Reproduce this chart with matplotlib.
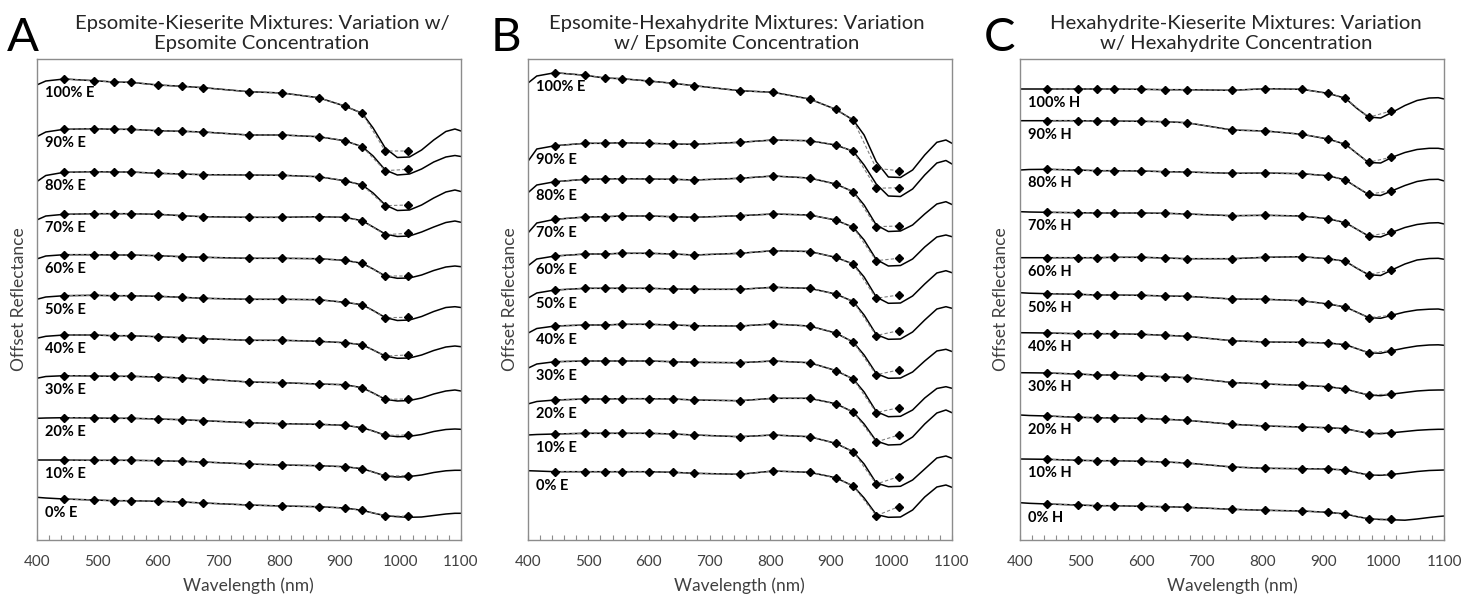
import matplotlib.pyplot as plt
from matplotlib.ticker import MultipleLocator

plt.rcParams['font.family'] = ['Lato', 'DejaVu Sans']

# wavelengths (nm)
band_wl = [445, 495, 527, 555, 600, 640, 675, 750, 805, 865, 908, 937, 975, 1012]
head_wl = [400, 415]
tail_wl = [955, 975, 995, 1015, 1035, 1055, 1075, 1090, 1100]
pct = [100, 90, 80, 70, 60, 50, 40, 30, 20, 10, 0]

# offset reflectance, arbitrary units (top curve first)
# Panel A: epsomite-kieserite
a_bands = [
    [461.0, 459.3, 458.0, 457.7, 455.0, 453.7, 452.3, 448.3, 447.0, 442.3, 434.0, 426.7, 389.0, 389.0],
    [410.7, 411.3, 410.7, 410.7, 409.3, 408.7, 408.0, 405.0, 405.0, 403.3, 399.3, 393.3, 369.3, 370.7],
    [367.7, 368.3, 368.0, 368.0, 366.7, 366.0, 365.3, 365.0, 364.7, 363.3, 359.3, 355.0, 334.3, 335.0],
    [325.7, 326.3, 326.3, 326.3, 325.7, 324.3, 323.3, 322.7, 322.7, 323.3, 322.7, 319.3, 305.3, 306.7],
    [285.3, 285.3, 285.0, 285.0, 284.3, 283.3, 282.7, 281.7, 281.7, 281.3, 279.7, 276.7, 264.0, 264.0],
    [244.3, 244.7, 244.3, 244.3, 243.7, 242.7, 241.7, 240.7, 240.7, 240.3, 237.7, 235.3, 222.3, 222.7],
    [205.0, 205.0, 204.3, 204.3, 203.3, 202.3, 201.3, 199.7, 199.7, 198.7, 197.3, 195.3, 184.0, 185.0],
    [164.3, 164.0, 163.7, 163.7, 163.0, 162.0, 161.0, 158.0, 157.3, 156.0, 155.3, 152.3, 140.7, 141.0],
    [122.3, 122.0, 121.7, 121.7, 121.0, 120.3, 119.3, 117.3, 116.3, 115.7, 114.7, 112.3, 104.7, 105.0],
    [80.0, 79.7, 79.7, 79.7, 79.3, 78.7, 78.0, 76.0, 75.0, 74.3, 73.3, 71.3, 64.0, 64.3],
    [41.0, 40.0, 39.3, 39.3, 38.7, 38.0, 37.0, 35.0, 34.0, 33.3, 32.0, 29.7, 24.3, 23.7],
]
a_heads = [[455.0, 459.0], [403.3, 408.0], [358.3, 364.5], [320.0, 324.0], [281.0, 284.0],
           [240.7, 243.0], [201.7, 203.7], [161.7, 163.5], [121.7, 122.0], [80.0, 80.0], [42.7, 42.0]]
a_tails = [
    [412.0, 392.0, 382.5, 383.0, 390.0, 400.0, 408.5, 411.0, 409.0],
    [384.0, 370.0, 365.0, 366.0, 371.0, 378.0, 383.0, 384.5, 383.5],
    [347.0, 335.0, 329.5, 330.0, 335.0, 342.0, 348.0, 350.0, 348.5],
    [313.0, 306.0, 303.5, 304.0, 308.0, 313.0, 317.5, 319.0, 317.7],
    [271.0, 264.0, 261.7, 262.0, 265.0, 269.5, 273.0, 274.0, 273.3],
    [229.5, 222.5, 219.5, 220.0, 223.5, 228.5, 232.5, 233.3, 232.5],
    [190.0, 184.0, 181.7, 182.0, 185.0, 189.5, 193.0, 194.0, 193.3],
    [147.0, 140.7, 139.0, 139.5, 142.0, 146.0, 149.0, 150.0, 149.0],
    [109.0, 104.7, 103.3, 103.7, 105.5, 108.5, 110.5, 111.0, 110.7],
    [68.0, 64.0, 63.0, 63.5, 65.0, 67.5, 69.2, 69.7, 69.7],
    [27.0, 24.3, 23.3, 22.7, 23.0, 24.5, 26.0, 26.7, 26.7],
]

# Panel B: epsomite-hexahydrite
b_bands = [
    [467.3, 464.7, 462.0, 461.3, 459.0, 456.7, 454.3, 449.3, 447.7, 441.0, 430.7, 420.0, 371.7, 369.3],
    [394.3, 396.7, 396.7, 397.3, 396.7, 396.0, 395.7, 397.7, 400.0, 399.3, 395.0, 388.8, 351.7, 352.3],
    [358.3, 360.7, 361.0, 361.3, 361.0, 360.7, 360.0, 361.7, 364.0, 362.0, 356.0, 348.3, 313.3, 314.0],
    [320.7, 323.0, 323.3, 324.0, 324.0, 323.3, 322.7, 324.3, 326.0, 325.0, 320.0, 312.7, 279.3, 281.7],
    [284.0, 286.0, 286.0, 286.7, 286.7, 286.0, 285.0, 286.7, 289.3, 288.5, 282.7, 276.0, 241.7, 245.0],
    [250.0, 251.7, 251.7, 251.7, 251.7, 251.0, 250.7, 250.7, 252.7, 251.7, 246.0, 238.5, 204.5, 209.3],
    [214.0, 215.0, 215.0, 215.7, 215.7, 215.0, 214.3, 214.0, 216.0, 214.0, 207.0, 198.0, 165.3, 170.0],
    [178.3, 179.0, 179.0, 179.0, 179.0, 178.3, 177.7, 177.3, 179.0, 177.3, 169.5, 161.0, 127.5, 132.2],
    [140.0, 141.0, 141.0, 141.3, 141.3, 141.0, 140.0, 139.3, 141.7, 141.7, 136.3, 128.0, 98.0, 105.0],
    [106.0, 106.7, 106.7, 106.7, 106.7, 106.0, 105.0, 103.3, 105.0, 103.3, 96.7, 88.3, 56.0, 63.3],
    [68.3, 68.3, 68.3, 68.3, 68.3, 67.7, 66.7, 65.7, 69.0, 67.7, 62.3, 54.0, 24.3, 33.3],
]
b_heads = [[456.7, 464.0], [378.3, 391.0], [347.0, 355.0], [306.7, 317.0], [274.0, 281.0],
           [241.7, 247.0], [206.7, 211.5], [171.7, 176.0], [136.0, 138.5], [105.0, 105.5], [69.3, 69.0]]
b_tails = [
    [405.0, 378.3, 363.0, 362.5, 370.0, 385.0, 397.7, 400.0, 396.7],
    [375.0, 356.0, 344.0, 343.5, 351.0, 365.0, 377.0, 379.5, 376.0],
    [335.0, 315.0, 308.5, 309.0, 315.0, 326.0, 336.0, 338.3, 335.5],
    [300.0, 280.5, 274.0, 274.5, 281.0, 293.0, 303.0, 305.0, 303.3],
    [263.0, 243.0, 236.7, 237.0, 244.0, 256.0, 267.0, 269.3, 267.3],
    [225.0, 205.5, 200.7, 201.0, 208.0, 220.0, 231.0, 233.3, 231.7],
    [185.0, 166.5, 161.7, 162.0, 168.0, 179.0, 189.0, 190.7, 188.5],
    [148.0, 128.5, 123.3, 123.7, 130.0, 142.0, 151.5, 153.3, 151.7],
    [116.0, 99.0, 95.0, 95.5, 103.0, 116.0, 127.0, 130.0, 127.3],
    [76.0, 57.0, 53.3, 53.7, 60.0, 71.0, 82.0, 84.0, 81.7],
    [42.0, 25.5, 22.7, 23.0, 30.0, 43.0, 53.0, 55.0, 52.7],
]

# Panel C: hexahydrite-kieserite
c_bands = [
    [451.0, 451.0, 451.0, 451.0, 450.7, 450.3, 450.3, 449.7, 451.3, 450.7, 446.7, 441.7, 422.7, 429.0],
    [419.3, 419.3, 419.0, 419.0, 418.7, 418.3, 417.3, 410.0, 409.0, 405.7, 401.0, 395.7, 377.7, 382.7],
    [370.7, 370.0, 369.3, 369.3, 369.0, 368.3, 368.0, 366.7, 367.0, 366.3, 364.3, 360.0, 345.7, 349.3],
    [327.7, 327.3, 327.0, 327.0, 327.0, 326.7, 326.0, 324.3, 324.7, 324.0, 321.3, 317.3, 304.0, 307.7],
    [282.3, 282.3, 282.3, 282.7, 282.7, 282.0, 281.3, 281.3, 282.7, 283.3, 281.3, 278.7, 265.3, 270.0],
    [246.3, 245.7, 245.0, 245.0, 244.7, 244.0, 243.7, 241.0, 240.7, 239.3, 236.0, 233.0, 222.3, 224.7],
    [207.0, 206.3, 206.3, 206.3, 205.7, 204.7, 203.7, 199.3, 198.0, 197.7, 197.0, 195.3, 187.3, 189.3],
    [167.0, 166.0, 165.0, 165.0, 164.0, 163.3, 162.3, 157.5, 156.0, 154.7, 153.3, 151.0, 145.0, 146.0],
    [124.0, 122.7, 122.3, 122.0, 121.7, 120.7, 119.7, 115.7, 114.0, 113.0, 112.3, 111.3, 106.7, 107.3],
    [80.7, 79.7, 79.3, 79.3, 78.7, 78.0, 77.0, 73.0, 71.7, 71.3, 71.0, 70.0, 65.0, 65.7],
    [36.0, 35.0, 34.3, 34.3, 33.7, 33.3, 32.7, 30.7, 29.7, 29.0, 27.7, 26.0, 21.3, 20.7],
]
c_heads = [[451.0, 451.0], [419.3, 419.3], [370.0, 370.5], [328.3, 328.0], [282.3, 282.3],
           [247.3, 246.8], [207.3, 207.2], [167.3, 167.2], [125.0, 124.5], [81.0, 80.9], [37.3, 36.7]]
c_tails = [
    [432.0, 423.0, 422.0, 428.0, 434.5, 439.5, 442.0, 442.3, 441.0],
    [387.0, 377.5, 377.0, 383.0, 387.5, 390.5, 391.7, 391.7, 390.7],
    [353.0, 345.5, 344.5, 349.5, 354.5, 358.5, 360.5, 360.7, 359.0],
    [311.0, 304.0, 303.0, 308.0, 312.5, 315.5, 317.0, 317.3, 316.0],
    [272.0, 265.3, 264.5, 270.5, 276.0, 280.0, 281.5, 281.7, 280.7],
    [228.0, 222.5, 221.7, 225.0, 228.0, 230.0, 230.8, 231.0, 230.0],
    [191.5, 187.3, 186.7, 189.5, 192.0, 194.0, 195.0, 195.2, 194.7],
    [148.0, 145.0, 144.3, 146.0, 147.5, 149.0, 149.8, 150.0, 150.0],
    [109.0, 106.7, 106.3, 107.3, 108.5, 109.7, 110.4, 110.7, 110.7],
    [67.5, 65.0, 64.7, 65.7, 67.0, 68.5, 69.5, 69.8, 70.0],
    [23.5, 21.3, 20.5, 20.2, 19.8, 21.0, 22.5, 23.5, 24.0],
]

titles = ["Epsomite-Kieserite Mixtures: Variation w/\nEpsomite Concentration",
          "Epsomite-Hexahydrite Mixtures: Variation\nw/ Epsomite Concentration",
          "Hexahydrite-Kieserite Mixtures: Variation\nw/ Hexahydrite Concentration"]
letters = ["A", "B", "C"]
suffix = ["E", "E", "H"]

panels = [(a_bands, a_heads, a_tails), (b_bands, b_heads, b_tails), (c_bands, c_heads, c_tails)]

W, H = 1476, 598
fig = plt.figure(figsize=(W / 100, H / 100), dpi=100)

ax_left = [36.7, 527.7, 1020]
title_x = [262, 737, 1236]
letter_x = [23, 506, 1000]
ylab_x = [-0.022, -0.022, -0.027]
frame = '#8c8c8c'
txt = '#404040'

for i, (bands, heads, tails) in enumerate(panels):
    ax = fig.add_axes([ax_left[i] / W, 58 / H, 424.3 / W, 481 / H])
    for j in range(len(pct)):
        line_x = head_wl + band_wl[:12] + tail_wl
        line_y = heads[j] + bands[j][:12] + tails[j]
        ax.plot(line_x, line_y, color='black', lw=1.1, zorder=2)
        ax.plot(band_wl, bands[j], color='#7f7f7f', lw=0.8, dashes=(3, 2), zorder=3)
        ax.plot(band_wl, bands[j], ls='none', marker='D', ms=4.4, color='black', zorder=4)
        ax.text(414, bands[j][0] - 14, f"{pct[j]}% {suffix[i]}", fontsize=10.5,
                fontweight='bold', ha='left', va='center', color='black')
    ax.set_xlim(400, 1100)
    ax.set_ylim(0, 481)
    ax.set_yticks([])
    ax.xaxis.set_major_locator(MultipleLocator(100))
    ax.xaxis.set_minor_locator(MultipleLocator(20))
    ax.tick_params(axis='x', which='both', direction='in', length=3.5, width=0.8,
                   color=frame, labelsize=11, labelcolor=txt, pad=11)
    for s in ax.spines.values():
        s.set_color(frame)
        s.set_linewidth(1.0)
    ax.set_xlabel('Wavelength (nm)', fontsize=12.5, color=txt, labelpad=6)
    ax.set_ylabel('Offset Reflectance', fontsize=12.5, color=txt)
    ax.yaxis.set_label_coords(ylab_x[i], 0.5)
    fig.text(title_x[i] / W, 1 - 33.5 / H, titles[i], ha='center', va='center',
             fontsize=14.6, color='#262626', linespacing=1.25)
    fig.text(letter_x[i] / W, 1 - 38 / H, letters[i], ha='center', va='center',
             fontsize=34, color='black')

fig.savefig('out.png', dpi=100)
